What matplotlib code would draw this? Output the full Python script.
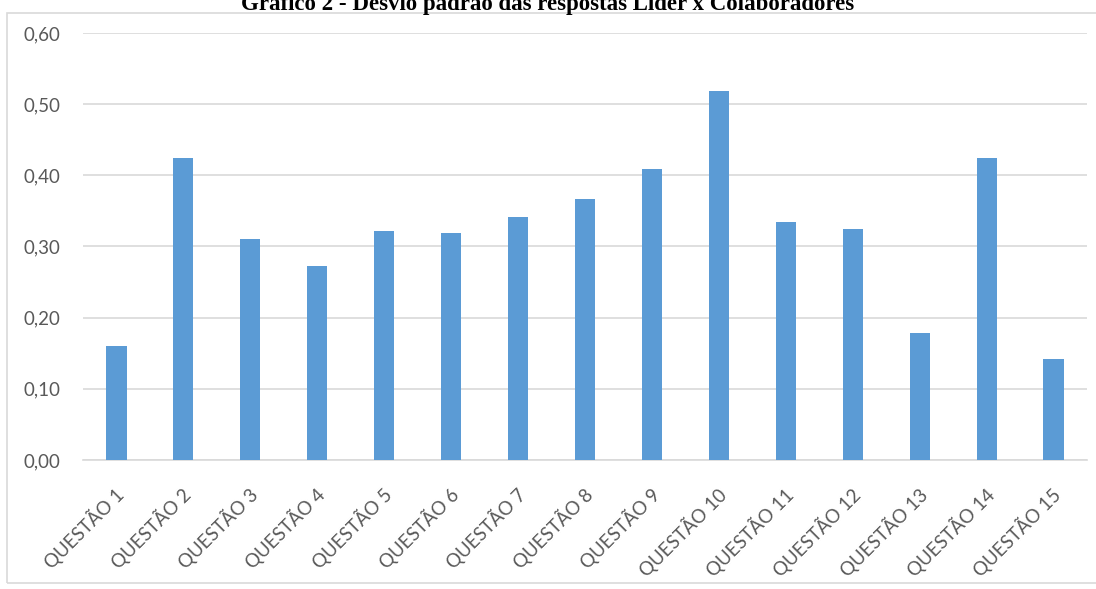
import matplotlib.pyplot as plt
import matplotlib.transforms as mtransforms
from matplotlib.patches import Rectangle
from matplotlib.ticker import FuncFormatter
import numpy as np

questoes = ['QUESTÃO %d' % i for i in range(1, 16)]
desvio = [0.16, 0.425, 0.311, 0.273, 0.322, 0.319, 0.342, 0.367,
          0.409, 0.518, 0.334, 0.324, 0.178, 0.425, 0.142]
y_ticks = [0.0, 0.1, 0.2, 0.3, 0.4, 0.5, 0.6]
titulo = 'Gráfico 2 - Desvio padrão das respostas Líder x Colaboradores'

fig = plt.figure(figsize=(10.96, 5.89), dpi=100)

# moldura cinza do grafico (estilo Excel)
fig.patches.append(Rectangle((7 / 1096, 1 - 583 / 589), 1095 / 1096, 570 / 589,
                             transform=fig.transFigure, fill=False,
                             edgecolor='#d9d9d9', linewidth=1.2))

# titulo (no original aparece cortado no topo)
fig.text(0.5, 1 - 10 / 589, titulo, ha='center', va='baseline',
         fontfamily='Liberation Serif', fontweight='bold', fontsize=16.5,
         color='black')

ax = fig.add_axes([83 / 1096, 1 - 460 / 589, 1004 / 1096, 427 / 589])
x = np.arange(len(questoes))
ax.bar(x, desvio, width=0.3, color='#5b9bd5', zorder=3)

ax.set_xlim(-0.5, len(questoes) - 0.5)
ax.set_ylim(0, 0.6)
ax.set_yticks(y_ticks)
ax.yaxis.set_major_formatter(FuncFormatter(lambda v, p: ('%.2f' % v).replace('.', ',')))
ax.grid(axis='y', color='#d9d9d9', linewidth=1.2, zorder=0)

for s in ['top', 'right', 'left']:
    ax.spines[s].set_visible(False)
ax.spines['bottom'].set_color('#d9d9d9')
ax.spines['bottom'].set_linewidth(1.2)

ax.tick_params(axis='both', length=0, colors='#595959')
ax.tick_params(axis='y', pad=16.5, labelsize=13.5)
ax.set_xticks(x)
ax.set_xticklabels(questoes, rotation=45, ha='right', rotation_mode='anchor',
                   fontsize=13.5, color='#595959')
offset = mtransforms.ScaledTranslation(-2 / 72, -14 / 72, fig.dpi_scale_trans)
for lbl in ax.get_xticklabels():
    lbl.set_transform(lbl.get_transform() + offset)
    lbl.set_fontfamily('Lato')
for lbl in ax.get_yticklabels():
    lbl.set_fontfamily('Lato')

fig.savefig('out.png', dpi=100)
